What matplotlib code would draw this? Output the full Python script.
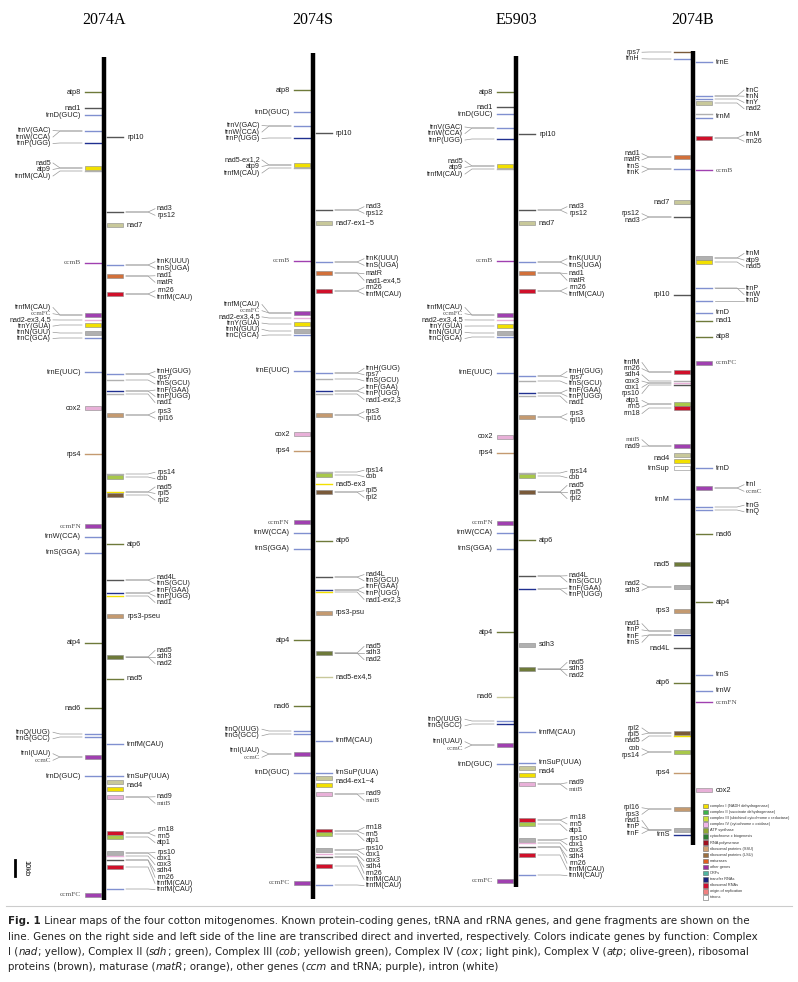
import matplotlib
matplotlib.use("Agg")
import matplotlib.pyplot as plt
from matplotlib.patches import Rectangle

# genome names, axis x (page px), top / bottom of the line
GENOMES = ["2074A", "2074S", "E5903", "2074B"]
AXIS_X = [104, 313, 516, 693]
AXIS_TOP = [57, 53, 56, 51]
AXIS_BOT = [900, 899, 887, 845]

COL = {"y": "#f2e000", "g": "#7fae3c", "c": "#a8c84a", "p": "#e8b0d8", "a": "#6e7a3a",
       "b": "#c49a70", "B": "#7a5a3a", "o": "#d2703a", "m": "#a040b0", "t": "#8090d0",
       "T": "#203090", "r": "#d0102a", "k": "#555555", "e": "#b0b0b0", "l": "#c8c89a",
       "w": "#ffffff"}

# groups: (side, [(y, colour, box)], [labels], optional label centre)
G_2074A = [
    ("L", [(92, "a", 0)], ["atp8"]),
    ("L", [(108, "k", 0)], ["nad1"]),
    ("L", [(115, "t", 0)], ["trnD(GUC)"]),
    ("L", [(131, "t", 0), (143, "T", 0)], ["trnV(GAC)", "trnW(CCA)", "trnP(UGG)"]),
    ("L", [(168, "y", 1), (171, "e", 0)], ["nad5", "atp9", "trnfM(CAU)"]),
    ("L", [(263, "m", 0)], ["ccmB"]),
    ("L", [(315, "m", 1), (320, "p", 0), (325, "y", 1), (333, "e", 1), (338, "t", 0)],
     ["trnfM(CAU)", "ccmFC", "nad2-ex3,4,5", "trnY(GUA)", "trnN(GUU)", "trnC(GCA)"], 323),
    ("L", [(372, "t", 0)], ["trnE(UUC)"]),
    ("L", [(408, "p", 1)], ["cox2"]),
    ("L", [(454, "b", 0)], ["rps4"]),
    ("L", [(526, "m", 1)], ["ccmFN"]),
    ("L", [(537, "t", 0)], ["trnW(CCA)"]),
    ("L", [(553, "t", 0)], ["trnS(GGA)"]),
    ("L", [(643, "a", 0)], ["atp4"]),
    ("L", [(708, "a", 0)], ["nad6"]),
    ("L", [(734, "t", 0), (737, "t", 0)], ["trnQ(UUG)", "trnG(GCC)"]),
    ("L", [(757, "m", 1)], ["trnI(UAU)", "ccmC"]),
    ("L", [(776, "t", 0)], ["trnD(GUC)"]),
    ("L", [(895, "m", 1)], ["ccmFC"]),
    ("R", [(137, "k", 0)], ["rpl10"]),
    ("R", [(212, "k", 0)], ["nad3", "rps12"]),
    ("R", [(225, "l", 1)], ["nad7"]),
    ("R", [(265, "t", 0)], ["trnK(UUU)", "trnS(UGA)"]),
    ("R", [(276, "o", 1)], ["nad1", "matR"], 279),
    ("R", [(294, "r", 1)], ["rrn26", "trnfM(CAU)"]),
    ("R", [(374, "t", 0), (380, "e", 0), (391, "T", 0), (394, "e", 0)],
     ["trnH(GUG)", "rps7", "trnS(GCU)", "trnF(GAA)", "trnP(UGG)", "nad1"], 387),
    ("R", [(415, "b", 1)], ["rps3", "rpl16"]),
    ("R", [(474, "e", 0), (477, "c", 1)], ["rps14", "cob"]),
    ("R", [(492, "y", 0), (495, "B", 1)], ["nad5", "rpl5", "rpl2"]),
    ("R", [(544, "a", 0)], ["atp6"]),
    ("R", [(580, "k", 0), (593, "T", 0), (596, "y", 0)],
     ["nad4L", "trnS(GCU)", "trnF(GAA)", "trnP(UGG)", "nad1"], 590),
    ("R", [(616, "b", 1)], ["rps3-pseu"]),
    ("R", [(657, "a", 1)], ["nad5", "sdh3", "nad2"]),
    ("R", [(679, "a", 0)], ["nad5"]),
    ("R", [(744, "t", 0)], ["trnfM(CAU)"]),
    ("R", [(776, "t", 0)], ["trnSuP(UUA)"]),
    ("R", [(782, "l", 1), (789, "y", 1)], ["nad4"]),
    ("R", [(797, "p", 1)], ["nad9", "mttB"], 800),
    ("R", [(833, "r", 1), (837, "c", 1)], ["rrn18", "rrn5", "atp1"], 836),
    ("R", [(853, "e", 1), (856, "p", 0), (860, "k", 0), (867, "r", 1), (889, "t", 0)],
     ["rps10", "cox1", "cox3", "sdh4", "rrn26", "trnfM(CAU)", "trnfM(CAU)"], 871),
]

G_2074S = [
    ("L", [(90, "a", 0)], ["atp8"]),
    ("L", [(112, "t", 0)], ["trnD(GUC)"]),
    ("L", [(126, "t", 0), (138, "T", 0)], ["trnV(GAC)", "trnW(CCA)", "trnP(UGG)"]),
    ("L", [(165, "y", 1), (168, "e", 0)], ["nad5-ex1,2", "atp9", "trnfM(CAU)"]),
    ("L", [(261, "m", 0)], ["ccmB"]),
    ("L", [(313, "m", 1), (318, "p", 0), (324, "y", 1), (331, "e", 1), (335, "t", 0)],
     ["trnfM(CAU)", "ccmFC", "nad2-ex3,4,5", "trnY(GUA)", "trnN(GUU)", "trnC(GCA)"], 320),
    ("L", [(371, "t", 0)], ["trnE(UUC)"]),
    ("L", [(434, "p", 1)], ["cox2"]),
    ("L", [(451, "b", 0)], ["rps4"]),
    ("L", [(522, "m", 1)], ["ccmFN"]),
    ("L", [(533, "t", 0)], ["trnW(CCA)"]),
    ("L", [(549, "t", 0)], ["trnS(GGA)"]),
    ("L", [(640, "a", 0)], ["atp4"]),
    ("L", [(706, "a", 0)], ["nad6"]),
    ("L", [(731, "t", 0), (734, "t", 0)], ["trnQ(UUG)", "trnG(GCC)"]),
    ("L", [(754, "m", 1)], ["trnI(UAU)", "ccmC"]),
    ("L", [(773, "t", 0)], ["trnD(GUC)"]),
    ("L", [(883, "m", 1)], ["ccmFC"]),
    ("R", [(133, "k", 0)], ["rpl10"]),
    ("R", [(210, "k", 0)], ["nad3", "rps12"]),
    ("R", [(223, "l", 1)], ["nad7-ex1~5"]),
    ("R", [(262, "t", 0)], ["trnK(UUU)", "trnS(UGA)"]),
    ("R", [(273, "o", 1)], ["matR", "nad1-ex4,5"], 277),
    ("R", [(291, "r", 1)], ["rrn26", "trnfM(CAU)"]),
    ("R", [(373, "t", 0), (379, "e", 0), (391, "T", 0), (394, "e", 0)],
     ["trnH(GUG)", "rps7", "trnS(GCU)", "trnF(GAA)", "trnP(UGG)", "nad1-ex2,3"], 384),
    ("R", [(415, "b", 1)], ["rps3", "rpl16"]),
    ("R", [(472, "e", 0), (475, "c", 1)], ["rps14", "cob"]),
    ("R", [(484, "y", 0)], ["nad5-ex3"]),
    ("R", [(492, "B", 1)], ["rpl5", "rpl2"], 494),
    ("R", [(541, "a", 0)], ["atp6"]),
    ("R", [(577, "k", 0), (590, "T", 0), (592, "y", 0)],
     ["nad4L", "trnS(GCU)", "trnF(GAA)", "trnP(UGG)", "nad1-ex2,3"], 587),
    ("R", [(613, "b", 1)], ["rps3-psu"]),
    ("R", [(653, "a", 1)], ["nad5", "sdh3", "nad2"]),
    ("R", [(677, "l", 0)], ["nad5-ex4,5"]),
    ("R", [(741, "t", 0)], ["trnfM(CAU)"]),
    ("R", [(773, "t", 0)], ["trnSuP(UUA)"]),
    ("R", [(778, "l", 1), (785, "y", 1)], ["nad4-ex1~4"]),
    ("R", [(794, "p", 1)], ["nad9", "mttB"], 797),
    ("R", [(831, "r", 1), (834, "c", 1)], ["rrn18", "rrn5", "atp1"], 834),
    ("R", [(850, "e", 1), (854, "p", 0), (857, "k", 0), (866, "r", 1), (885, "t", 0)],
     ["rps10", "cox1", "cox3", "sdh4", "rrn26", "trnfM(CAU)", "trnfM(CAU)"], 867),
]

G_E5903 = [
    ("L", [(92, "a", 0)], ["atp8"]),
    ("L", [(107, "k", 0)], ["nad1"]),
    ("L", [(114, "t", 0)], ["trnD(GUC)"]),
    ("L", [(128, "t", 0), (139, "T", 0)], ["trnV(GAC)", "trnW(CCA)", "trnP(UGG)"]),
    ("L", [(166, "y", 1), (169, "e", 0)], ["nad5", "atp9", "trnfM(CAU)"]),
    ("L", [(261, "m", 0)], ["ccmB"]),
    ("L", [(315, "m", 1), (320, "p", 0), (326, "y", 1), (333, "e", 1), (337, "t", 0)],
     ["trnfM(CAU)", "ccmFC", "nad2-ex3,4,5", "trnY(GUA)", "trnN(GUU)", "trnC(GCA)"], 323),
    ("L", [(373, "t", 0)], ["trnE(UUC)"]),
    ("L", [(437, "p", 1)], ["cox2"]),
    ("L", [(453, "b", 0)], ["rps4"]),
    ("L", [(523, "m", 1)], ["ccmFN"]),
    ("L", [(533, "t", 0)], ["trnW(CCA)"]),
    ("L", [(549, "t", 0)], ["trnS(GGA)"]),
    ("L", [(632, "a", 0)], ["atp4"]),
    ("L", [(697, "l", 0)], ["nad6"]),
    ("L", [(721, "t", 0), (724, "T", 0)], ["trnQ(UUG)", "trnG(GCC)"]),
    ("L", [(745, "m", 1)], ["trnI(UAU)", "ccmC"]),
    ("L", [(764, "t", 0)], ["trnD(GUC)"]),
    ("L", [(881, "m", 1)], ["ccmFC"]),
    ("R", [(134, "k", 0)], ["rpl10"]),
    ("R", [(210, "k", 0)], ["nad3", "rps12"]),
    ("R", [(223, "l", 1)], ["nad7"]),
    ("R", [(262, "t", 0)], ["trnK(UUU)", "trnS(UGA)"]),
    ("R", [(273, "o", 1)], ["nad1", "matR"], 277),
    ("R", [(291, "r", 1)], ["rrn26", "trnfM(CAU)"]),
    ("R", [(376, "t", 0), (381, "e", 0), (393, "T", 0), (396, "e", 0)],
     ["trnH(GUG)", "rps7", "trnS(GCU)", "trnF(GAA)", "trnP(UGG)", "nad1"], 387),
    ("R", [(417, "b", 1)], ["rps3", "rpl16"]),
    ("R", [(473, "e", 0), (476, "c", 1)], ["rps14", "cob"]),
    ("R", [(492, "B", 1)], ["nad5", "rpl5", "rpl2"]),
    ("R", [(540, "a", 0)], ["atp6"]),
    ("R", [(576, "k", 0), (589, "T", 0)], ["nad4L", "trnS(GCU)", "trnF(GAA)", "trnP(UGG)"], 585),
    ("R", [(645, "e", 1)], ["sdh3"]),
    ("R", [(669, "a", 1)], ["nad5", "sdh3", "nad2"]),
    ("R", [(732, "t", 0)], ["trnfM(CAU)"]),
    ("R", [(763, "t", 0)], ["trnSuP(UUA)"]),
    ("R", [(768, "l", 1), (775, "y", 1)], ["nad4"]),
    ("R", [(784, "p", 1)], ["nad9", "mttB"], 786),
    ("R", [(820, "r", 1), (824, "c", 1)], ["rrn18", "rrn5", "atp1"], 824),
    ("R", [(840, "e", 1), (843, "p", 0), (847, "k", 0), (855, "r", 1), (875, "t", 0)],
     ["rps10", "cox1", "cox3", "sdh4", "rrn26", "trnfM(CAU)", "trnM(CAU)"], 857),
]

G_2074B = [
    ("L", [(52, "B", 0), (59, "t", 0)], ["rps7", "trnH"]),
    ("L", [(157, "o", 1), (169, "t", 0)], ["nad1", "matR", "trnS", "trnK"]),
    ("L", [(202, "l", 1)], ["nad7"]),
    ("L", [(217, "k", 0)], ["rps12", "nad3"]),
    ("L", [(295, "k", 0)], ["rpl10"]),
    ("L", [(372, "r", 1), (381, "e", 0), (383, "p", 0), (385, "k", 0)],
     ["trnfM", "rrn26", "sdh4", "cox3", "cox1", "rps10"], 378),
    ("L", [(404, "c", 1), (408, "r", 1)], ["atp1", "rrn5", "rrn18"], 407),
    ("L", [(446, "m", 1)], ["mttB", "nad9"], 443),
    ("L", [(455, "l", 1), (461, "y", 1)], ["nad4"]),
    ("L", [(468, "w", 1)], ["trnSup"]),
    ("L", [(499, "t", 0)], ["trnM"]),
    ("L", [(564, "a", 1)], ["nad5"]),
    ("L", [(587, "e", 1)], ["nad2", "sdh3"]),
    ("L", [(611, "b", 1)], ["rps3"]),
    ("L", [(631, "e", 1), (635, "T", 0)], ["nad1", "trnP", "trnF", "trnS"]),
    ("L", [(648, "k", 0)], ["nad4L"]),
    ("L", [(683, "a", 0)], ["atp6"]),
    ("L", [(733, "B", 1), (736, "y", 0)], ["rpl2", "rpl5", "nad5"]),
    ("L", [(752, "c", 1)], ["cob", "rps14"]),
    ("L", [(773, "b", 0)], ["rps4"]),
    ("L", [(809, "b", 1)], ["rpl16", "rps3"], 811),
    ("L", [(830, "e", 1)], ["nad1", "trnP", "trnF"], 827),
    ("L", [(835, "T", 0)], ["trnS"]),
    ("R", [(62, "t", 0)], ["trnE"]),
    ("R", [(96, "t", 0), (99, "t", 0), (103, "l", 1)], ["trnC", "trnN", "trnY", "nad2"]),
    ("R", [(114, "e", 0), (118, "t", 0)], ["trnM"]),
    ("R", [(138, "r", 1)], ["trnM", "rrn26"]),
    ("R", [(170, "m", 0)], ["ccmB"]),
    ("R", [(258, "e", 1), (262, "y", 1)], ["trnM", "atp9", "nad5"]),
    ("R", [(288, "t", 0), (301, "t", 0)], ["trnP", "trnW", "trnD"]),
    ("R", [(313, "t", 0)], ["trnD"]),
    ("R", [(321, "a", 0)], ["nad1"]),
    ("R", [(337, "a", 0)], ["atp8"]),
    ("R", [(363, "m", 1)], ["ccmFC"]),
    ("R", [(468, "t", 0)], ["trnD"]),
    ("R", [(488, "m", 1)], ["trnI", "ccmC"]),
    ("R", [(507, "t", 0), (510, "t", 0)], ["trnG", "trnQ"]),
    ("R", [(534, "a", 0)], ["nad6"]),
    ("R", [(602, "a", 0)], ["atp4"]),
    ("R", [(675, "t", 0)], ["trnS"]),
    ("R", [(691, "t", 0)], ["trnW"]),
    ("R", [(702, "m", 0)], ["ccmFN"]),
    ("R", [(790, "p", 1)], ["cox2"]),
]
GROUPS = [G_2074A, G_2074S, G_E5903, G_2074B]

LEGEND_LABELS = ["complex I (NADH dehydrogenase)", "complex II (succinate dehydrogenase)",
                 "complex III (ubichinol cytochrome c reductase)", "complex IV (cytochrome c oxidase)",
                 "ATP synthase", "cytochrome c biogenesis", "RNA polymerase",
                 "ribosomal proteins (SSU)", "ribosomal proteins (LSU)", "maturases",
                 "other genes", "ORFs", "transfer RNAs", "ribosomal RNAs",
                 "origin of replication", "introns"]
LEGEND_COLORS = ["#f2e000", "#3cb44b", "#c8e03c", "#f0b4e6", "#8fa832", "#2e7d32", "#a01020",
                 "#d2a070", "#9c7040", "#e06020", "#a030a0", "#50b4a0", "#1a237e", "#d01030",
                 "#f08080", "#ffffff"]

CAPTION = [
    [("Fig. 1", "bold"), (" Linear maps of the four cotton mitogenomes. Known protein-coding genes, tRNA and rRNA genes, and gene fragments are shown on the", None)],
    [("line. Genes on the right side and left side of the line are transcribed direct and inverted, respectively. Colors indicate genes by function: Complex", None)],
    [("I (", None), ("nad", "it"), ("; yellow), Complex II (", None), ("sdh", "it"), ("; green), Complex III (", None), ("cob", "it"),
     ("; yellowish green), Complex IV (", None), ("cox", "it"), ("; light pink), Complex V (", None), ("atp", "it"), ("; olive-green), ribosomal", None)],
    [("proteins (brown), maturase (", None), ("matR", "it"), ("; orange), other genes (", None), ("ccm", "it"), (" and tRNA; purple), intron (white)", None)],
]

fig = plt.figure(figsize=(7.98, 9.82), dpi=100)
ax = fig.add_axes([0, 0, 1, 1])
ax.set_xlim(0, 798)
ax.set_ylim(982, 0)
ax.axis("off")

SANS = "Liberation Sans"
SERIF = "Liberation Serif"


def label_font(txt):
    if txt.startswith("ccm") or txt.startswith("mtt"):
        return dict(family=SERIF, color="#555555")
    return dict(family=SANS, color="#222222")


def draw_mark(x0, x1, y, c, box):
    if box:
        ax.add_patch(Rectangle((min(x0, x1), y - 2), abs(x1 - x0), 4, facecolor=COL[c],
                               edgecolor="#888888", lw=0.4, zorder=3))
    else:
        ax.plot([x0, x1], [y, y], color=COL[c], lw=1.0, zorder=3)


for gi, name in enumerate(GENOMES):
    x = AXIS_X[gi]
    ax.text(x, 20, name, family=SERIF, fontsize=11.5, ha="center", va="center")
    ax.plot([x, x], [AXIS_TOP[gi], AXIS_BOT[gi]], color="black", lw=3.2, zorder=4,
            solid_capstyle="butt")
    for grp in GROUPS[gi]:
        side, marks, labels = grp[:3]
        s = 1 if side == "R" else -1
        for y, c, box in marks:
            draw_mark(x + s * 3, x + s * 19, y, c, box)
        ym = sum(m[0] for m in marks) / len(marks)
        if len(grp) > 3:
            ym = grp[3]
        ha = "left" if s > 0 else "right"
        if len(labels) == 1:
            ax.text(x + s * 23, ym, labels[0], fontsize=5.3, ha=ha, va="center",
                    **label_font(labels[0]))
            continue
        n = len(labels)
        step = 6.5 if n < 4 else 6.2
        for i, lab in enumerate(labels):
            yl = ym + (i - (n - 1) / 2) * step
            mk = marks[min(i * len(marks) // n, len(marks) - 1)][0]
            ax.plot([x + s * 22, x + s * 44, x + s * 51], [mk, mk, yl], color="#999999",
                    lw=0.5, zorder=2)
            ax.text(x + s * 53, yl, lab, fontsize=5.1, ha=ha, va="center", **label_font(lab))

# 10 kb scale bar
ax.plot([15, 15], [860, 876], color="black", lw=2)
ax.text(22, 868, "10kb", rotation=-90, fontsize=5.3, family=SANS, ha="left", va="center")

# legend
for i, (lab, c) in enumerate(zip(LEGEND_LABELS, LEGEND_COLORS)):
    yy = 806 + i * 6.1
    ax.add_patch(Rectangle((703, yy - 2.3), 4.6, 4.6, facecolor=c, edgecolor="#666666", lw=0.4))
    ax.text(710, yy, lab, fontsize=2.8, family=SANS, va="center", color="#333333")

# caption
ax.plot([6, 792], [906, 906], color="#cccccc", lw=0.8)
renderer = fig.canvas.get_renderer()
for li, parts in enumerate(CAPTION):
    xx = 8
    yy = 921 + li * 15.5
    for txt, style in parts:
        kw = dict(fontsize=7.4, family="DejaVu Sans", va="center", color="#222222")
        if style == "bold":
            kw["fontweight"] = "bold"
        if style == "it":
            kw["fontstyle"] = "italic"
        t = ax.text(xx, yy, txt, **kw)
        bb = t.get_window_extent(renderer=renderer)
        xx += bb.width

fig.savefig("out.png", dpi=100)
